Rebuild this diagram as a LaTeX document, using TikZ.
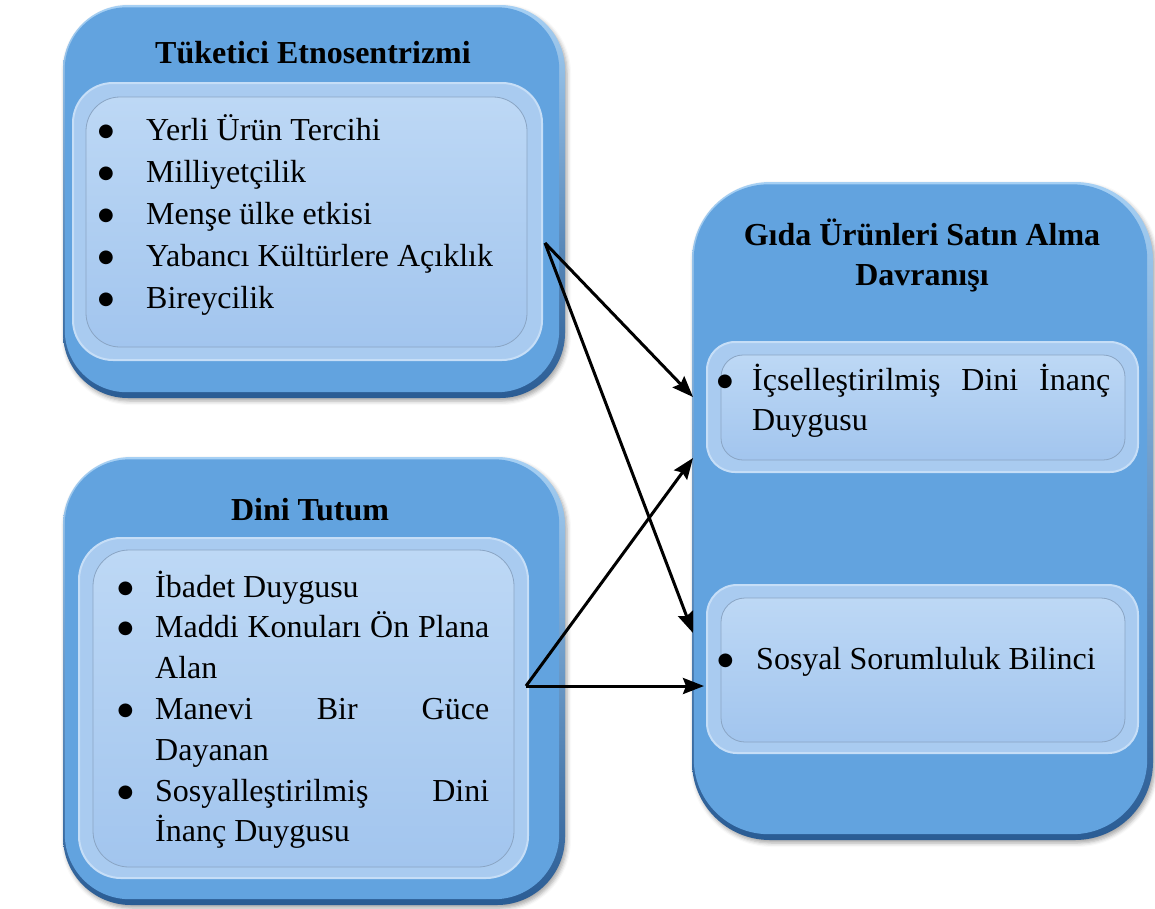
\documentclass[tikz,border=0pt]{standalone}
\usepackage{fontspec}
\setmainfont{Liberation Serif}
\newfontfamily\dotfont{DejaVu Sans}
\usetikzlibrary{arrows.meta,shadows.blur}
\definecolor{mainblue}{HTML}{62A3DF}
\definecolor{edgelight}{HTML}{A6D0F4}
\definecolor{edgedark}{HTML}{2A5C94}
\definecolor{framefill}{HTML}{A9CBF0}
\definecolor{frameline}{HTML}{C6DEF7}
\definecolor{paneltop}{HTML}{BDD8F5}
\definecolor{panelbot}{HTML}{A2C5EE}
\definecolor{panelline}{HTML}{8AA5C4}
\newcommand\bul[1]{\makebox[#1][l]{\hspace*{0.5pt}\raisebox{4pt}{\dotfont\fontsize{18}{18}\selectfont ●}}}
\begin{document}
\begin{tikzpicture}[x=1pt,y=-1pt,
  outerbox/.style={rectangle, inner sep=0pt, rounded corners=#1,
    top color=edgelight, bottom color=edgedark,
    blur shadow={shadow xshift=2pt, shadow yshift=-3pt, shadow opacity=35, shadow blur radius=4pt}},
  bodyfill/.style={fill=mainblue, rounded corners=#1},
  panelframe/.style={rectangle, inner sep=0pt, rounded corners=#1, fill=framefill, draw=frameline, line width=2pt},
  panelin/.style={rectangle, inner sep=0pt, rounded corners=#1, top color=paneltop, bottom color=panelbot, draw=panelline, line width=0.8pt},
  title/.style={inner sep=0pt, anchor=base, font=\fontsize{32}{40}\selectfont\bfseries},
  listtext/.style={inner sep=0pt, anchor=base west, font=\fontsize{32}{42}\selectfont},
  link/.style={line width=3pt, -{Stealth[length=21pt, width=16pt, inset=3pt]}}
]
\useasboundingbox (0,0) rectangle (1155,908);

% ---- Box 1
\node[outerbox=65pt, minimum width=502pt, minimum height=393pt] (b1) at (314,201.5) {};
\fill[bodyfill=62pt] ([shift={(2,2.5)}]b1.north west) rectangle ([shift={(-6,-6)}]b1.south east);
\node[panelframe=40pt, minimum width=469pt, minimum height=277pt] (p1) at (307.5,221.5) {};
\node[panelin=34pt, minimum width=441pt, minimum height=250pt] (p1i) at (306.5,222) {};
\node[title] (t1) at (313,63) {Tüketici Etnosentrizmi};
\node[listtext] (l1) at (97.5,140) {\parbox[t]{430pt}{\fontsize{32}{42}\selectfont
  \bul{48.5pt}Yerli Ürün Tercihi\\
  \bul{48.5pt}Milliyetçilik\\
  \bul{48.5pt}Menşe ülke etkisi\\
  \bul{48.5pt}Yabancı Kültürlere Açıklık\\
  \bul{48.5pt}Bireycilik}};

% ---- Box 2
\node[outerbox=68pt, minimum width=502pt, minimum height=448pt] (b2) at (314,681) {};
\fill[bodyfill=65pt] ([shift={(2,2.5)}]b2.north west) rectangle ([shift={(-6,-6)}]b2.south east);
\node[panelframe=42pt, minimum width=449pt, minimum height=340pt] (p2) at (303.5,708) {};
\node[panelin=36pt, minimum width=421pt, minimum height=317pt] (p2i) at (303.5,708.5) {};
\node[title] (t2) at (310,520) {Dini Tutum};
\node[listtext] (l2) at (117,597) {\parbox[t]{380pt}{\fontsize{32}{40.8}\selectfont
  \bul{38pt}İbadet Duygusu\\
  \bul{38pt}\makebox[334pt][s]{Maddi Konuları Ön Plana}\\
  \hspace*{38pt}Alan\\
  \bul{38pt}\makebox[334pt][s]{Manevi Bir Güce}\\
  \hspace*{38pt}Dayanan\\
  \bul{38pt}\makebox[334pt][s]{Sosyalleştirilmiş Dini}\\
  \hspace*{38pt}İnanç Duygusu}};

% ---- Box 3
\node[outerbox=78pt, minimum width=461pt, minimum height=658pt] (b3) at (922.5,511) {};
\fill[bodyfill=75pt] ([shift={(2,2.5)}]b3.north west) rectangle ([shift={(-6,-6)}]b3.south east);
\node[title] (t3) at (922,245) {\parbox[t]{440pt}{\centering\fontsize{32}{40}\selectfont\bfseries Gıda Ürünleri Satın Alma\\Davranışı}};
\node[panelframe=28pt, minimum width=431pt, minimum height=130pt] (pa) at (922.5,407) {};
\node[panelin=22pt, minimum width=404pt, minimum height=105pt] (pai) at (923,407.5) {};
\node[listtext] (la) at (716.5,390) {\parbox[t]{400pt}{\fontsize{32}{40}\selectfont
  \bul{35.5pt}\makebox[358pt][s]{İçselleştirilmiş Dini İnanç}\\
  \hspace*{35.5pt}Duygusu}};
\node[panelframe=30pt, minimum width=431pt, minimum height=168pt] (pb) at (922.5,669) {};
\node[panelin=24pt, minimum width=404pt, minimum height=144pt] (pbi) at (923,670) {};
\node[listtext] (lb) at (717,669) {\bul{39pt}Sosyal Sorumluluk Bilinci};

% ---- Arrows
\coordinate (a1s) at (545,243);
\coordinate (a1e) at (693,397);
\coordinate (a2e) at (693,633);
\coordinate (a3s) at (526,686);
\coordinate (a3e) at (693,458);
\coordinate (a4e) at (704,686);
\draw[link] (a1s) -- (a1e);
\draw[link] (a1s) -- (a2e);
\draw[link] (a3s) -- (a3e);
\draw[link] (a3s) -- (a4e);
\end{tikzpicture}
\end{document}
